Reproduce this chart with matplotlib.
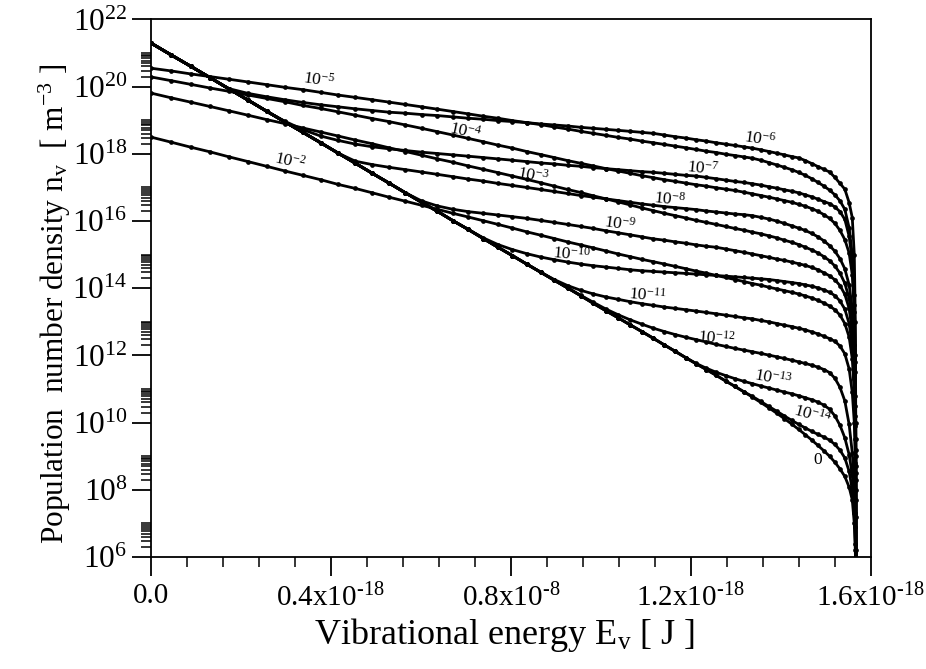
import numpy as np
import matplotlib
matplotlib.use("Agg")
import matplotlib.pyplot as plt
from matplotlib.ticker import NullFormatter

plt.rcParams['font.family'] = ['Liberation Serif', 'DejaVu Serif']
plt.rcParams['mathtext.fontset'] = 'custom'
plt.rcParams['mathtext.rm'] = 'Liberation Serif'
plt.rcParams['mathtext.it'] = 'Liberation Serif:italic'

# vibrational level energies, in 1e-18 J
energy = [0.0000, 0.0444, 0.0882, 0.1314, 0.1739, 0.2159, 0.2572, 0.2979, 0.3380, 0.3775,
          0.4164, 0.4547, 0.4923, 0.5294, 0.5658, 0.6016, 0.6368, 0.6714, 0.7054, 0.7388,
          0.7715, 0.8037, 0.8352, 0.8661, 0.8964, 0.9261, 0.9552, 0.9836, 1.0115, 1.0387,
          1.0653, 1.0914, 1.1168, 1.1415, 1.1657, 1.1893, 1.2122, 1.2345, 1.2563, 1.2774,
          1.2979, 1.3177, 1.3370, 1.3557, 1.3737, 1.3911, 1.4079, 1.4241, 1.4397, 1.4547,
          1.4691, 1.4828, 1.4960, 1.5085, 1.5204, 1.5317, 1.5424, 1.5520, 1.5590, 1.5635,
          1.5658, 1.5668, 1.5672]

# log10 of population density [m^-3] for each time
t0 = [21.30, 20.95, 20.61, 20.27, 19.93, 19.60, 19.27, 18.95, 18.64, 18.33,
      18.02, 17.72, 17.42, 17.13, 16.84, 16.56, 16.29, 16.01, 15.75, 15.48,
      15.22, 14.97, 14.72, 14.48, 14.24, 14.01, 13.78, 13.55, 13.33, 13.12,
      12.91, 12.71, 12.51, 12.31, 12.12, 11.93, 11.75, 11.58, 11.41, 11.24,
      11.08, 10.92, 10.76, 10.60, 10.44, 10.28, 10.12, 9.96, 9.80, 9.64,
      9.48, 9.32, 9.16, 9.00, 8.82, 8.62, 8.40, 8.08, 7.70, 7.0,
      6.2, 5.0, 3.0]

t14 = t0[:42] + [10.78, 10.63, 10.48, 10.34, 10.20, 10.07, 9.95, 9.84, 9.74, 9.65,
                 9.57, 9.48, 9.35, 9.18, 8.95, 8.55, 8.00, 7.3, 6.4, 5.2, 3.2]

t13 = t0[:36] + [11.76, 11.62, 11.50, 11.40, 11.31, 11.23, 11.16, 11.09, 11.03, 10.97,
                 10.91, 10.86, 10.80, 10.74, 10.68, 10.61, 10.52, 10.40, 10.20, 9.92,
                 9.55, 9.05, 8.45, 7.7, 6.9, 5.9, 4.3]

t12 = t0[:26] + [13.79, 13.58, 13.38, 13.21, 13.06, 12.93, 12.81, 12.71, 12.62, 12.54,
                 12.47, 12.40, 12.33, 12.27, 12.21, 12.16, 12.11, 12.06, 12.01, 11.96,
                 11.91, 11.86, 11.81, 11.76, 11.71, 11.65, 11.58, 11.49, 11.32, 11.05,
                 10.65, 9.95, 9.1, 8.2, 7.3, 6.2, 4.5]

t11 = t0[:23] + [14.48, 14.26, 14.08, 13.94, 13.83, 13.74, 13.67, 13.60, 13.54, 13.49,
                 13.44, 13.40, 13.36, 13.32, 13.28, 13.24, 13.20, 13.16, 13.12, 13.09,
                 13.04, 13.00, 12.95, 12.90, 12.86, 12.81, 12.76, 12.70, 12.64, 12.57,
                 12.50, 12.42, 12.28, 12.05, 11.60, 10.9, 10.0, 8.8, 7.2, 5.0]

t10 = t0[:19] + [15.50, 15.30, 15.15, 15.03, 14.93, 14.85, 14.78, 14.72, 14.67, 14.63,
                 14.59, 14.55, 14.52, 14.50, 14.48, 14.46, 14.44, 14.42, 14.40, 14.38,
                 14.36, 14.34, 14.32, 14.30, 14.28, 14.26, 14.23, 14.20, 14.17, 14.14,
                 14.10, 14.06, 14.01, 13.95, 13.88, 13.78, 13.62, 13.38, 12.95, 12.3,
                 11.3, 9.9, 8.0, 5.0]

t9 = t0[:15] + [16.60, 16.45, 16.35, 16.28, 16.23, 16.18, 16.13, 16.08, 16.02, 15.96,
                15.90, 15.84, 15.78, 15.71, 15.65, 15.59, 15.53, 15.47, 15.43, 15.38,
                15.34, 15.29, 15.25, 15.22, 15.17, 15.12, 15.07, 15.02, 14.97, 14.92,
                14.87, 14.83, 14.78, 14.73, 14.68, 14.62, 14.55, 14.46, 14.37, 14.25,
                14.08, 13.82, 13.40, 12.7, 11.7, 10.2, 8.3, 5.0]

t8 = t0[:11] + [17.78, 17.68, 17.60, 17.53, 17.46, 17.39, 17.32, 17.25, 17.19, 17.12,
                17.06, 17.00, 16.94, 16.88, 16.82, 16.76, 16.71, 16.66, 16.61, 16.56,
                16.51, 16.47, 16.43, 16.40, 16.37, 16.34, 16.30, 16.27, 16.24, 16.21,
                16.19, 16.16, 16.11, 16.06, 16.00, 15.93, 15.86, 15.79, 15.72, 15.63,
                15.53, 15.41, 15.27, 15.10, 14.88, 14.58, 14.10, 13.4, 12.3, 10.8,
                8.7, 5.0]

t7 = t0[:7] + [18.97, 18.72, 18.53, 18.40, 18.29, 18.21, 18.15, 18.10, 18.05, 18.01,
               17.97, 17.93, 17.89, 17.85, 17.81, 17.77, 17.73, 17.70, 17.66, 17.63,
               17.59, 17.56, 17.53, 17.50, 17.47, 17.45, 17.42, 17.39, 17.36, 17.34,
               17.30, 17.26, 17.22, 17.18, 17.15, 17.11, 17.07, 17.02, 16.98, 16.93,
               16.89, 16.84, 16.78, 16.72, 16.65, 16.58, 16.52, 16.42, 16.28, 16.05,
               15.55, 14.8, 13.5, 11.8, 9.2, 5.0]

t6 = t0[:4] + [19.94, 19.80, 19.70, 19.61, 19.53, 19.46, 19.40, 19.34, 19.29, 19.24,
               19.21, 19.17, 19.14, 19.10, 19.06, 19.03, 18.99, 18.96, 18.93, 18.89,
               18.86, 18.83, 18.79, 18.76, 18.73, 18.70, 18.67, 18.64, 18.61, 18.56,
               18.51, 18.47, 18.42, 18.38, 18.33, 18.29, 18.25, 18.21, 18.17, 18.12,
               18.07, 18.02, 17.97, 17.92, 17.88, 17.80, 17.71, 17.62, 17.54, 17.46,
               17.30, 17.12, 16.95, 16.55, 16.10, 15.0, 13.0, 10.0, 5.0]

t5 = [20.55, 20.47, 20.38, 20.30, 20.22, 20.14, 20.06, 19.98, 19.91, 19.83,
      19.75, 19.68, 19.61, 19.54, 19.47, 19.40, 19.33, 19.26, 19.19, 19.12,
      19.06, 18.99, 18.93, 18.87, 18.80, 18.74, 18.67, 18.61, 18.55, 18.49,
      18.44, 18.38, 18.33, 18.28, 18.23, 18.18, 18.13, 18.08, 18.04, 17.99,
      17.95, 17.91, 17.87, 17.81, 17.74, 17.67, 17.60, 17.53, 17.45, 17.36,
      17.26, 17.15, 17.04, 16.92, 16.78, 16.60, 16.35, 15.80, 15.0, 13.8,
      12.0, 9.5, 5.0]

t4 = [20.29, 20.18, 20.07, 19.96, 19.86, 19.75, 19.65, 19.55, 19.44, 19.35,
      19.25, 19.15, 19.05, 18.96, 18.86, 18.76, 18.66, 18.56, 18.46, 18.36,
      18.26, 18.17, 18.07, 17.98, 17.89, 17.80, 17.72, 17.64, 17.56, 17.49,
      17.42, 17.35, 17.29, 17.23, 17.18, 17.13, 17.08, 17.04, 16.99, 16.95,
      16.91, 16.86, 16.81, 16.76, 16.71, 16.66, 16.61, 16.56, 16.50, 16.44,
      16.37, 16.29, 16.19, 16.08, 15.93, 15.72, 15.45, 15.05, 14.4, 13.3,
      11.5, 9.0, 5.0]

t3 = [19.81, 19.67, 19.54, 19.41, 19.28, 19.15, 19.02, 18.90, 18.77, 18.65,
      18.53, 18.41, 18.30, 18.18, 18.07, 17.96, 17.85, 17.75, 17.64, 17.54,
      17.44, 17.34, 17.24, 17.14, 17.04, 16.94, 16.85, 16.75, 16.66, 16.57,
      16.48, 16.39, 16.31, 16.23, 16.16, 16.09, 16.02, 15.96, 15.90, 15.84,
      15.78, 15.73, 15.67, 15.62, 15.56, 15.50, 15.43, 15.37, 15.30, 15.22,
      15.14, 15.05, 14.94, 14.82, 14.66, 14.45, 14.15, 13.70, 13.0, 12.0,
      10.5, 8.5, 5.0]

t2 = [18.50, 18.35, 18.20, 18.06, 17.91, 17.77, 17.63, 17.49, 17.36, 17.23,
      17.09, 16.97, 16.84, 16.71, 16.59, 16.47, 16.35, 16.23, 16.12, 16.01,
      15.90, 15.79, 15.68, 15.58, 15.48, 15.38, 15.29, 15.20, 15.11, 15.02,
      14.94, 14.86, 14.79, 14.72, 14.65, 14.58, 14.51, 14.45, 14.38, 14.32,
      14.26, 14.20, 14.14, 14.09, 14.03, 13.98, 13.93, 13.88, 13.83, 13.77,
      13.71, 13.64, 13.56, 13.47, 13.36, 13.20, 12.95, 12.55, 11.9, 10.9,
      9.5, 7.7, 5.0]

curves = [t0, t14, t13, t12, t11, t10, t9, t8, t7, t6, t5, t4, t3, t2]

# curve labels: text, energy (1e-18 J), log10 n, rotation
label_text = [r'$\mathit{10^{-2}}$', r'$\mathit{10^{-3}}$', r'$\mathit{10^{-4}}$',
              r'$\mathit{10^{-5}}$', r'$\mathit{10^{-6}}$', r'$\mathit{10^{-7}}$',
              r'$\mathit{10^{-8}}$', r'$\mathit{10^{-9}}$', r'$\mathit{10^{-10}}$',
              r'$\mathit{10^{-11}}$', r'$\mathit{10^{-12}}$', r'$\mathit{10^{-13}}$',
              r'$\mathit{10^{-14}}$', r'$\mathit{0}$']
label_e = [0.309, 0.849, 0.698, 0.374, 1.353, 1.227, 1.154, 1.042, 0.936,
           1.103, 1.258, 1.383, 1.471, 1.483]
label_logn = [17.79, 17.34, 18.68, 20.20, 18.44, 17.58, 16.63, 15.91, 15.02,
              13.80, 12.52, 11.33, 10.23, 8.89]
label_rot = [-12, -10, -12, -8, -8, -6, -6, -8, -5, -5, -5, -10, -15, 0]

xtick_pos = [0.0, 0.4, 0.8, 1.2, 1.6]
xtick_lab = ['0.0', r'0.4x10$^{\text{-18}}$', r'0.8x10$^{\text{-8}}$',
             r'1.2x10$^{\text{-18}}$', r'1.6x10$^{\text{-18}}$']
ytick_exp = [6, 8, 10, 12, 14, 16, 18, 20, 22]

fig = plt.figure(figsize=(9.26, 6.69), dpi=100)
ax = fig.add_axes([0.1629, 0.1674, 0.7774, 0.8035])

E = np.array(energy) * 1e-18
for c in curves:
    ax.plot(E, 10.0 ** np.array(c), '-o', color='black', lw=2.0, ms=3.4,
            mew=0, clip_on=True)

for txt, e, ln, rot in zip(label_text, label_e, label_logn, label_rot):
    ax.text(e * 1e-18, 10.0 ** ln, txt, fontsize=12.5, ha='center', va='center',
            rotation=rot)

ax.set_yscale('log')
ax.set_xlim(0, 1.6e-18)
ax.set_ylim(1e6, 1e22)

ax.set_xticks([p * 1e-18 for p in xtick_pos], labels=xtick_lab)
ax.set_xticks([k * 0.08e-18 for k in range(21)], minor=True)
ax.set_yticks([10.0 ** p for p in ytick_exp],
              labels=[r'$10^{%d}$' % p for p in ytick_exp])
ax.set_yticks([k * 10.0 ** p for p in ytick_exp[:-1] for k in range(2, 11)],
              minor=True)
ax.yaxis.set_minor_formatter(NullFormatter())

ax.tick_params(which='major', direction='out', length=14, width=1.3)
ax.tick_params(which='minor', direction='out', length=7, width=1.1)
ax.tick_params(axis='x', which='major', labelsize=21, pad=5)
ax.tick_params(axis='y', which='major', labelsize=22.5, pad=3)
ax.tick_params(top=False, right=False)
for s in ax.spines.values():
    s.set_linewidth(1.3)

ax.set_xlabel(r'Vibrational energy E$_\mathrm{v}$ [ J ]', fontsize=26)
ax.set_ylabel(r'Population  number density n$_\mathrm{v}$  [ m$^{-3}$ ]',
              fontsize=22.5)
ax.xaxis.label.set_va('center')
ax.xaxis.set_label_coords(0.492, -0.145)
ax.yaxis.label.set_va('center')
ax.yaxis.set_label_coords(-0.133, 0.47)

fig.savefig('out.png', dpi=100)
